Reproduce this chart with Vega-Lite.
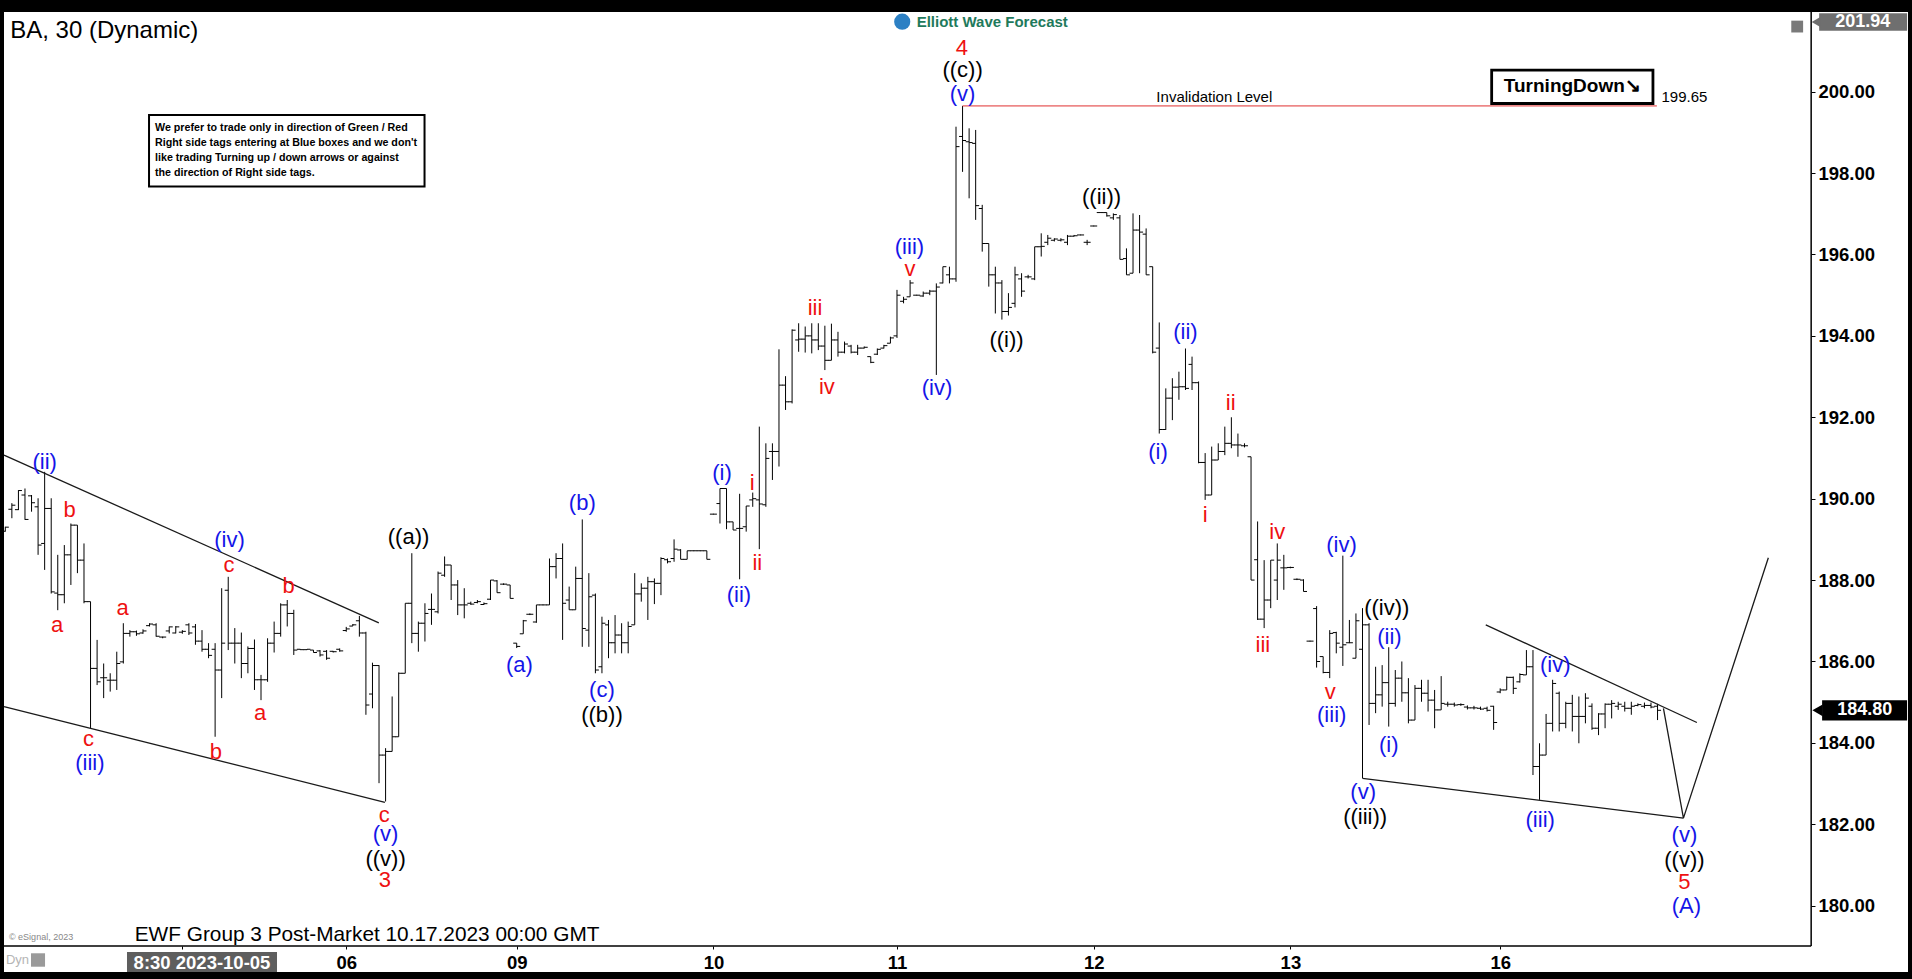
{
"$schema": "https://vega.github.io/schema/vega-lite/v6.json",
"width": 1904,
"height": 960,
"autosize": {"type": "none"},
"padding": {"left": 4, "right": 4, "top": 12, "bottom": 7},
"background": "#000000",
"config": {"view": {"fill": "#ffffff", "stroke": null}, "font": "Liberation Sans"},
"datasets": {
"bars": [
{"i":0,"o":189.2,"h":189.31,"l":189.19,"c":189.3},
{"i":1,"o":189.74,"h":189.89,"l":189.52,"c":189.84},
{"i":2,"o":189.73,"h":190.21,"l":189.72,"c":190.2},
{"i":3,"o":190.09,"h":190.25,"l":189.48,"c":189.49},
{"i":4,"o":190.07,"h":190.09,"l":189.68,"c":189.9},
{"i":5,"o":189.8,"h":190.01,"l":188.62,"c":188.86},
{"i":6,"o":188.9,"h":190.66,"l":188.25,"c":189.76},
{"i":7,"o":189.76,"h":190.01,"l":187.67,"c":187.71},
{"i":8,"o":187.68,"h":188.62,"l":187.26,"c":187.64},
{"i":9,"o":187.64,"h":188.86,"l":187.43,"c":188.62},
{"i":10,"o":188.62,"h":189.39,"l":187.88,"c":189.35},
{"i":11,"o":189.35,"h":189.35,"l":188.17,"c":188.49},
{"i":12,"o":188.49,"h":188.9,"l":187.43,"c":187.47},
{"i":13,"o":187.47,"h":187.47,"l":184.36,"c":185.83},
{"i":14,"o":185.83,"h":186.53,"l":185.42,"c":185.5},
{"i":15,"o":185.6,"h":185.95,"l":185.1,"c":185.6},
{"i":16,"o":185.54,"h":185.71,"l":185.26,"c":185.54},
{"i":17,"o":185.54,"h":186.24,"l":185.3,"c":185.95},
{"i":18,"o":185.99,"h":186.94,"l":185.95,"c":186.69},
{"i":19,"o":186.69,"h":186.77,"l":186.61,"c":186.73},
{"i":20,"o":186.73,"h":186.76,"l":186.63,"c":186.68},
{"i":21,"o":186.7,"h":186.79,"l":186.68,"c":186.75},
{"i":22,"o":186.88,"h":186.94,"l":186.86,"c":186.92},
{"i":23,"o":186.9,"h":186.94,"l":186.61,"c":186.62},
{"i":24,"o":186.6,"h":186.61,"l":186.57,"c":186.6},
{"i":25,"o":186.75,"h":186.86,"l":186.69,"c":186.85},
{"i":26,"o":186.7,"h":186.87,"l":186.69,"c":186.85},
{"i":27,"o":186.72,"h":186.77,"l":186.68,"c":186.74},
{"i":28,"o":186.9,"h":186.94,"l":186.65,"c":186.7},
{"i":29,"o":186.85,"h":186.92,"l":186.41,"c":186.5},
{"i":30,"o":186.5,"h":186.77,"l":186.24,"c":186.3},
{"i":31,"o":186.3,"h":186.45,"l":186.08,"c":186.15},
{"i":32,"o":186.3,"h":186.45,"l":184.15,"c":185.79},
{"i":33,"o":185.79,"h":187.8,"l":185.1,"c":186.45},
{"i":34,"o":187.75,"h":188.08,"l":186.28,"c":186.45},
{"i":35,"o":186.45,"h":186.82,"l":185.95,"c":186.45},
{"i":36,"o":186.45,"h":186.71,"l":185.59,"c":185.95},
{"i":37,"o":185.95,"h":186.37,"l":185.71,"c":186.32},
{"i":38,"o":186.32,"h":186.54,"l":185.3,"c":185.55},
{"i":39,"o":185.55,"h":185.67,"l":185.05,"c":185.55},
{"i":40,"o":185.55,"h":186.57,"l":185.5,"c":186.45},
{"i":41,"o":186.45,"h":186.98,"l":186.22,"c":186.69},
{"i":42,"o":186.69,"h":187.43,"l":186.61,"c":187.39},
{"i":43,"o":187.39,"h":187.51,"l":186.86,"c":187.18},
{"i":44,"o":187.18,"h":187.27,"l":186.16,"c":186.28},
{"i":45,"o":186.3,"h":186.3,"l":186.28,"c":186.29},
{"i":46,"o":186.29,"h":186.3,"l":186.28,"c":186.3},
{"i":47,"o":186.28,"h":186.28,"l":186.22,"c":186.22},
{"i":48,"o":186.26,"h":186.28,"l":186.12,"c":186.16},
{"i":49,"o":186.25,"h":186.28,"l":186.04,"c":186.08},
{"i":50,"o":186.25,"h":186.26,"l":186.22,"c":186.24},
{"i":51,"o":186.3,"h":186.32,"l":186.24,"c":186.26},
{"i":52,"o":186.76,"h":186.85,"l":186.73,"c":186.8},
{"i":53,"o":186.87,"h":186.92,"l":186.87,"c":186.9},
{"i":54,"o":187.0,"h":187.12,"l":186.61,"c":186.7},
{"i":55,"o":186.7,"h":186.73,"l":184.69,"c":184.93},
{"i":56,"o":185.2,"h":185.97,"l":184.85,"c":185.9},
{"i":57,"o":185.9,"h":185.91,"l":183.01,"c":183.7},
{"i":58,"o":183.7,"h":183.87,"l":182.56,"c":183.79},
{"i":59,"o":183.79,"h":185.14,"l":183.79,"c":184.15},
{"i":60,"o":184.15,"h":185.73,"l":184.15,"c":185.71},
{"i":61,"o":185.71,"h":187.43,"l":185.71,"c":187.43},
{"i":62,"o":187.43,"h":188.66,"l":186.45,"c":186.69},
{"i":63,"o":186.69,"h":186.98,"l":186.24,"c":186.94},
{"i":64,"o":186.94,"h":187.43,"l":186.49,"c":187.18},
{"i":65,"o":187.28,"h":187.67,"l":186.9,"c":187.28},
{"i":66,"o":187.22,"h":188.21,"l":187.18,"c":188.17},
{"i":67,"o":188.12,"h":188.58,"l":188.08,"c":188.37},
{"i":68,"o":188.37,"h":188.37,"l":187.51,"c":187.88},
{"i":69,"o":187.88,"h":188.0,"l":187.14,"c":187.39},
{"i":70,"o":187.39,"h":187.8,"l":187.06,"c":187.39},
{"i":71,"o":187.43,"h":187.47,"l":187.39,"c":187.41},
{"i":72,"o":187.45,"h":187.51,"l":187.43,"c":187.47},
{"i":73,"o":187.4,"h":187.45,"l":187.39,"c":187.42},
{"i":74,"o":187.53,"h":188.0,"l":187.51,"c":188.0},
{"i":75,"o":187.98,"h":188.0,"l":187.69,"c":187.69},
{"i":76,"o":187.9,"h":187.92,"l":187.88,"c":187.9},
{"i":77,"o":187.88,"h":187.88,"l":187.55,"c":187.55},
{"i":78,"o":186.45,"h":186.45,"l":186.33,"c":186.37},
{"i":79,"o":186.68,"h":187.02,"l":186.68,"c":187.0},
{"i":80,"o":187.16,"h":187.18,"l":187.14,"c":187.16},
{"i":81,"o":186.97,"h":187.39,"l":186.95,"c":187.39},
{"i":82,"o":187.39,"h":187.4,"l":187.38,"c":187.39},
{"i":83,"o":187.39,"h":188.53,"l":187.39,"c":188.33},
{"i":84,"o":188.33,"h":188.66,"l":188.04,"c":188.53},
{"i":85,"o":188.53,"h":188.9,"l":186.53,"c":187.43},
{"i":86,"o":187.51,"h":187.84,"l":187.27,"c":187.27},
{"i":87,"o":187.27,"h":188.33,"l":187.27,"c":188.04},
{"i":88,"o":188.04,"h":189.49,"l":186.36,"c":186.81},
{"i":89,"o":186.77,"h":188.17,"l":186.36,"c":187.59},
{"i":90,"o":187.63,"h":187.67,"l":185.71,"c":185.79},
{"i":91,"o":185.87,"h":187.1,"l":185.71,"c":186.94},
{"i":92,"o":186.9,"h":187.02,"l":186.08,"c":186.46},
{"i":93,"o":186.46,"h":187.14,"l":186.2,"c":186.65},
{"i":94,"o":186.65,"h":186.94,"l":186.2,"c":186.46},
{"i":95,"o":186.46,"h":186.98,"l":186.2,"c":186.86},
{"i":96,"o":186.9,"h":188.17,"l":186.9,"c":187.66},
{"i":97,"o":187.66,"h":187.92,"l":187.47,"c":187.8},
{"i":98,"o":187.8,"h":188.08,"l":187.02,"c":187.96},
{"i":99,"o":187.96,"h":188.04,"l":187.41,"c":187.92},
{"i":100,"o":187.92,"h":188.56,"l":187.63,"c":188.53},
{"i":101,"o":188.5,"h":188.53,"l":188.41,"c":188.45},
{"i":102,"o":188.53,"h":189.0,"l":188.45,"c":188.76},
{"i":103,"o":188.74,"h":188.76,"l":188.51,"c":188.51},
{"i":104,"o":188.51,"h":188.72,"l":188.51,"c":188.72},
{"i":105,"o":188.72,"h":188.73,"l":188.71,"c":188.72},
{"i":106,"o":188.72,"h":188.73,"l":188.71,"c":188.72},
{"i":107,"o":188.72,"h":188.72,"l":188.51,"c":188.51},
{"i":108,"o":189.62,"h":189.63,"l":189.61,"c":189.62},
{"i":109,"o":189.88,"h":190.25,"l":189.39,"c":190.25},
{"i":110,"o":190.25,"h":190.25,"l":189.25,"c":189.43},
{"i":111,"o":189.43,"h":189.43,"l":189.23,"c":189.23},
{"i":112,"o":189.27,"h":190.12,"l":188.02,"c":189.27},
{"i":113,"o":189.31,"h":189.82,"l":189.19,"c":189.82},
{"i":114,"o":189.97,"h":190.15,"l":189.8,"c":190.0},
{"i":115,"o":189.97,"h":191.77,"l":188.76,"c":189.87},
{"i":116,"o":189.85,"h":191.36,"l":189.8,"c":190.99},
{"i":117,"o":191.16,"h":191.36,"l":190.46,"c":191.16},
{"i":118,"o":191.16,"h":193.67,"l":190.79,"c":192.79},
{"i":119,"o":192.79,"h":193.01,"l":192.18,"c":192.38},
{"i":120,"o":192.38,"h":194.16,"l":192.34,"c":194.14},
{"i":121,"o":193.9,"h":194.31,"l":193.61,"c":193.92},
{"i":122,"o":193.92,"h":194.23,"l":193.59,"c":194.0},
{"i":123,"o":194.0,"h":194.31,"l":193.57,"c":193.9},
{"i":124,"o":193.9,"h":194.31,"l":193.65,"c":193.75},
{"i":125,"o":193.75,"h":194.25,"l":193.16,"c":193.4},
{"i":126,"o":193.4,"h":194.3,"l":193.4,"c":193.9},
{"i":127,"o":193.9,"h":194.1,"l":193.49,"c":193.6},
{"i":128,"o":193.6,"h":193.86,"l":193.57,"c":193.8},
{"i":129,"o":193.75,"h":193.78,"l":193.57,"c":193.6},
{"i":130,"o":193.6,"h":193.78,"l":193.53,"c":193.7},
{"i":131,"o":193.7,"h":193.74,"l":193.69,"c":193.72},
{"i":132,"o":193.49,"h":193.49,"l":193.33,"c":193.35},
{"i":133,"o":193.55,"h":193.69,"l":193.53,"c":193.67},
{"i":134,"o":193.7,"h":193.78,"l":193.69,"c":193.76},
{"i":135,"o":193.82,"h":193.98,"l":193.82,"c":193.95},
{"i":136,"o":194.0,"h":195.13,"l":193.95,"c":195.0},
{"i":137,"o":194.85,"h":194.96,"l":194.8,"c":194.9},
{"i":138,"o":194.96,"h":195.37,"l":194.96,"c":195.3},
{"i":139,"o":195.0,"h":195.01,"l":194.99,"c":195.0},
{"i":140,"o":194.98,"h":195.09,"l":194.96,"c":195.05},
{"i":141,"o":195.05,"h":195.13,"l":195.0,"c":195.1},
{"i":142,"o":195.1,"h":195.29,"l":193.04,"c":195.2},
{"i":143,"o":195.3,"h":195.7,"l":195.29,"c":195.7},
{"i":144,"o":195.5,"h":195.7,"l":195.29,"c":195.4},
{"i":145,"o":195.4,"h":199.14,"l":195.33,"c":198.65},
{"i":146,"o":198.9,"h":199.65,"l":198.03,"c":198.8},
{"i":147,"o":198.77,"h":199.1,"l":197.38,"c":198.75},
{"i":148,"o":198.73,"h":199.06,"l":196.85,"c":197.2},
{"i":149,"o":197.13,"h":197.22,"l":196.07,"c":196.27},
{"i":150,"o":196.27,"h":196.27,"l":195.21,"c":195.5},
{"i":151,"o":195.5,"h":195.7,"l":194.55,"c":195.3},
{"i":152,"o":195.3,"h":195.37,"l":194.4,"c":194.6},
{"i":153,"o":194.6,"h":195.05,"l":194.5,"c":194.7},
{"i":154,"o":194.8,"h":195.7,"l":194.7,"c":195.5},
{"i":155,"o":195.4,"h":195.54,"l":194.96,"c":195.1},
{"i":156,"o":195.45,"h":195.5,"l":195.41,"c":195.45},
{"i":157,"o":195.4,"h":196.19,"l":195.37,"c":196.19},
{"i":158,"o":196.19,"h":196.52,"l":195.95,"c":196.2},
{"i":159,"o":196.3,"h":196.48,"l":196.23,"c":196.4},
{"i":160,"o":196.35,"h":196.4,"l":196.32,"c":196.38},
{"i":161,"o":196.35,"h":196.4,"l":196.32,"c":196.36},
{"i":162,"o":196.3,"h":196.48,"l":196.23,"c":196.45},
{"i":163,"o":196.45,"h":196.48,"l":196.44,"c":196.46},
{"i":164,"o":196.48,"h":196.49,"l":196.47,"c":196.48},
{"i":165,"o":196.3,"h":196.36,"l":196.23,"c":196.3},
{"i":166,"o":196.7,"h":196.71,"l":196.69,"c":196.7},
{"i":167,"o":197.03,"h":197.04,"l":197.02,"c":197.03},
{"i":168,"o":197.03,"h":197.03,"l":196.93,"c":196.95},
{"i":169,"o":196.9,"h":197.01,"l":196.85,"c":196.98},
{"i":170,"o":196.9,"h":196.97,"l":195.88,"c":195.88},
{"i":171,"o":195.9,"h":196.15,"l":195.5,"c":195.5},
{"i":172,"o":195.54,"h":197.01,"l":195.54,"c":196.6},
{"i":173,"o":196.6,"h":196.97,"l":195.54,"c":196.55},
{"i":174,"o":196.5,"h":196.64,"l":195.5,"c":195.5},
{"i":175,"o":195.7,"h":195.7,"l":193.57,"c":193.6},
{"i":176,"o":193.7,"h":194.33,"l":191.6,"c":191.7},
{"i":177,"o":191.7,"h":192.71,"l":191.69,"c":192.47},
{"i":178,"o":192.47,"h":192.96,"l":191.93,"c":192.74},
{"i":179,"o":192.74,"h":193.12,"l":192.43,"c":192.75},
{"i":180,"o":192.75,"h":193.69,"l":192.67,"c":192.71},
{"i":181,"o":193.3,"h":193.49,"l":192.67,"c":192.85},
{"i":182,"o":192.85,"h":192.88,"l":190.87,"c":190.89},
{"i":183,"o":190.89,"h":191.12,"l":189.97,"c":190.09},
{"i":184,"o":190.09,"h":191.28,"l":190.09,"c":190.95},
{"i":185,"o":190.95,"h":191.36,"l":190.95,"c":191.16},
{"i":186,"o":191.16,"h":191.77,"l":191.07,"c":191.36},
{"i":187,"o":191.36,"h":192.0,"l":191.24,"c":191.32},
{"i":188,"o":191.32,"h":191.6,"l":191.03,"c":191.32},
{"i":189,"o":191.3,"h":191.36,"l":191.26,"c":191.3},
{"i":190,"o":191.03,"h":191.03,"l":188.0,"c":188.0},
{"i":191,"o":188.5,"h":189.44,"l":187.02,"c":187.04},
{"i":192,"o":187.04,"h":188.49,"l":186.82,"c":187.51},
{"i":193,"o":187.51,"h":188.49,"l":187.31,"c":188.49},
{"i":194,"o":188.0,"h":188.9,"l":187.51,"c":188.49},
{"i":195,"o":188.3,"h":188.62,"l":187.76,"c":188.3},
{"i":196,"o":188.31,"h":188.33,"l":188.29,"c":188.31},
{"i":197,"o":188.02,"h":188.04,"l":188.0,"c":188.02},
{"i":198,"o":188.0,"h":188.02,"l":187.72,"c":187.72},
{"i":199,"o":186.5,"h":186.51,"l":186.49,"c":186.5},
{"i":200,"o":187.3,"h":187.36,"l":185.85,"c":186.0},
{"i":201,"o":186.12,"h":186.12,"l":185.71,"c":185.73},
{"i":202,"o":185.73,"h":186.77,"l":185.59,"c":186.69},
{"i":203,"o":186.71,"h":186.73,"l":186.2,"c":186.45},
{"i":204,"o":186.35,"h":188.6,"l":185.89,"c":186.41},
{"i":205,"o":186.46,"h":187.02,"l":186.45,"c":186.46},
{"i":206,"o":186.08,"h":187.18,"l":186.08,"c":187.0},
{"i":207,"o":186.3,"h":187.31,"l":183.13,"c":186.9},
{"i":208,"o":186.9,"h":186.94,"l":184.44,"c":184.97},
{"i":209,"o":184.97,"h":185.87,"l":184.73,"c":185.18},
{"i":210,"o":185.18,"h":185.91,"l":184.89,"c":185.48},
{"i":211,"o":185.48,"h":186.35,"l":184.4,"c":184.97},
{"i":212,"o":184.97,"h":185.79,"l":184.89,"c":185.59},
{"i":213,"o":185.59,"h":186.0,"l":185.01,"c":185.23},
{"i":214,"o":185.23,"h":185.59,"l":184.48,"c":184.56},
{"i":215,"o":184.56,"h":185.42,"l":184.56,"c":185.34},
{"i":216,"o":185.34,"h":185.55,"l":185.01,"c":185.22},
{"i":217,"o":185.22,"h":185.55,"l":184.77,"c":185.05},
{"i":218,"o":185.05,"h":185.3,"l":184.36,"c":184.81},
{"i":219,"o":184.81,"h":185.64,"l":184.81,"c":184.97},
{"i":220,"o":184.95,"h":185.01,"l":184.89,"c":184.95},
{"i":221,"o":184.95,"h":184.99,"l":184.89,"c":184.93},
{"i":222,"o":184.94,"h":184.97,"l":184.91,"c":184.94},
{"i":223,"o":184.88,"h":184.92,"l":184.82,"c":184.86},
{"i":224,"o":184.86,"h":184.91,"l":184.82,"c":184.86},
{"i":225,"o":184.85,"h":184.89,"l":184.81,"c":184.83},
{"i":226,"o":184.85,"h":184.89,"l":184.77,"c":184.8},
{"i":227,"o":184.9,"h":184.91,"l":184.32,"c":184.5},
{"i":228,"o":185.25,"h":185.34,"l":185.22,"c":185.3},
{"i":229,"o":185.3,"h":185.63,"l":185.3,"c":185.61},
{"i":230,"o":185.61,"h":185.63,"l":185.2,"c":185.34},
{"i":231,"o":185.5,"h":185.71,"l":185.48,"c":185.68},
{"i":232,"o":185.67,"h":186.28,"l":185.67,"c":185.87},
{"i":233,"o":185.87,"h":186.28,"l":183.21,"c":183.42},
{"i":234,"o":183.42,"h":183.99,"l":182.6,"c":183.7},
{"i":235,"o":183.7,"h":184.71,"l":183.7,"c":184.48},
{"i":236,"o":184.48,"h":185.55,"l":184.28,"c":185.46},
{"i":237,"o":185.22,"h":185.26,"l":184.28,"c":184.48},
{"i":238,"o":184.48,"h":185.01,"l":184.36,"c":184.97},
{"i":239,"o":184.97,"h":185.18,"l":184.28,"c":184.65},
{"i":240,"o":184.65,"h":185.14,"l":183.99,"c":184.65},
{"i":241,"o":184.65,"h":185.22,"l":184.48,"c":185.1},
{"i":242,"o":184.9,"h":184.97,"l":184.32,"c":184.36},
{"i":243,"o":184.36,"h":184.73,"l":184.19,"c":184.71},
{"i":244,"o":184.71,"h":184.97,"l":184.36,"c":184.95},
{"i":245,"o":184.95,"h":185.05,"l":184.6,"c":184.97},
{"i":246,"o":184.9,"h":185.01,"l":184.81,"c":184.95},
{"i":247,"o":184.9,"h":185.01,"l":184.77,"c":184.85},
{"i":248,"o":184.85,"h":185.01,"l":184.69,"c":184.9},
{"i":249,"o":184.92,"h":184.97,"l":184.9,"c":184.94},
{"i":250,"o":184.9,"h":184.99,"l":184.85,"c":184.92},
{"i":251,"o":184.92,"h":184.99,"l":184.85,"c":184.88},
{"i":252,"o":184.9,"h":184.96,"l":184.56,"c":184.8}
],
"waves": [
{"t":"(ii)","i":6.0,"p":190.91,"deg":"minuette"},
{"t":"b","i":9.8,"p":189.72,"deg":"subminuette"},
{"t":"a","i":7.9,"p":186.9,"deg":"subminuette"},
{"t":"c","i":12.7,"p":184.09,"deg":"subminuette"},
{"t":"(iii)","i":12.9,"p":183.5,"deg":"minuette"},
{"t":"a","i":17.9,"p":187.32,"deg":"subminuette"},
{"t":"(iv)","i":34.2,"p":188.99,"deg":"minuette"},
{"t":"c","i":34.1,"p":188.37,"deg":"subminuette"},
{"t":"b","i":43.2,"p":187.86,"deg":"subminuette"},
{"t":"a","i":38.85,"p":184.74,"deg":"subminuette"},
{"t":"b","i":32.1,"p":183.78,"deg":"subminuette"},
{"t":"c","i":57.8,"p":182.23,"deg":"subminuette"},
{"t":"(v)","i":58.0,"p":181.75,"deg":"minuette"},
{"t":"((v))","i":58.0,"p":181.14,"deg":"minute"},
{"t":"3","i":57.9,"p":180.63,"deg":"minor"},
{"t":"((a))","i":61.5,"p":189.07,"deg":"minute"},
{"t":"(a)","i":78.4,"p":185.91,"deg":"minuette"},
{"t":"(b)","i":88.0,"p":189.89,"deg":"minuette"},
{"t":"(c)","i":91.0,"p":185.3,"deg":"minuette"},
{"t":"((b))","i":91.0,"p":184.69,"deg":"minute"},
{"t":"(i)","i":109.3,"p":190.62,"deg":"minuette"},
{"t":"(ii)","i":111.9,"p":187.63,"deg":"minuette"},
{"t":"i","i":113.9,"p":190.39,"deg":"subminuette"},
{"t":"ii","i":114.7,"p":188.43,"deg":"subminuette"},
{"t":"iii","i":123.5,"p":194.68,"deg":"subminuette"},
{"t":"iv","i":125.3,"p":192.75,"deg":"subminuette"},
{"t":"(iii)","i":137.9,"p":196.19,"deg":"minuette"},
{"t":"v","i":138.0,"p":195.64,"deg":"subminuette"},
{"t":"(iv)","i":142.1,"p":192.71,"deg":"minuette"},
{"t":"(v)","i":146.0,"p":199.94,"deg":"minuette"},
{"t":"((c))","i":146.0,"p":200.53,"deg":"minute"},
{"t":"4","i":145.9,"p":201.08,"deg":"minor"},
{"t":"((i))","i":152.7,"p":193.9,"deg":"minute"},
{"t":"((ii))","i":167.2,"p":197.42,"deg":"minute"},
{"t":"(i)","i":175.8,"p":191.15,"deg":"minuette"},
{"t":"(ii)","i":180.0,"p":194.1,"deg":"minuette"},
{"t":"i","i":183.0,"p":189.61,"deg":"subminuette"},
{"t":"ii","i":186.9,"p":192.34,"deg":"subminuette"},
{"t":"iii","i":191.8,"p":186.41,"deg":"subminuette"},
{"t":"iv","i":194.0,"p":189.19,"deg":"subminuette"},
{"t":"(iv)","i":203.8,"p":188.86,"deg":"minuette"},
{"t":"v","i":202.1,"p":185.26,"deg":"subminuette"},
{"t":"(iii)","i":202.3,"p":184.69,"deg":"minuette"},
{"t":"((iv))","i":210.7,"p":187.31,"deg":"minute"},
{"t":"(ii)","i":211.1,"p":186.61,"deg":"minuette"},
{"t":"(i)","i":211.0,"p":183.95,"deg":"minuette"},
{"t":"(v)","i":207.1,"p":182.8,"deg":"minuette"},
{"t":"((iii))","i":207.4,"p":182.19,"deg":"minute"},
{"t":"(iv)","i":236.4,"p":185.91,"deg":"minuette"},
{"t":"(iii)","i":234.1,"p":182.1,"deg":"minuette"},
{"t":"(v)","i":256.1,"p":181.74,"deg":"minuette"},
{"t":"((v))","i":256.1,"p":181.13,"deg":"minute"},
{"t":"5","i":256.1,"p":180.59,"deg":"minor"},
{"t":"(A)","i":256.4,"p":179.98,"deg":"intermediate"}
],
"lines": [
{"id":"wedge_top","i":-0.2,"p":191.07},{"id":"wedge_top","i":56.97,"p":186.95},
{"id":"wedge_bottom","i":-0.2,"p":184.89},{"id":"wedge_bottom","i":57.9,"p":182.54},
{"id":"diag_bottom","i":207,"p":183.13},{"id":"diag_bottom","i":255.95,"p":182.15},
{"id":"diag_top","i":225.8,"p":186.9},{"id":"diag_top","i":258.0,"p":184.5},
{"id":"path","i":252.9,"p":184.85},{"id":"path","i":255.95,"p":182.15},{"id":"path","i":268.9,"p":188.55}
],
"frame": [
{"i":-0.2,"i2":275.43,"p":179.01,"p2":179.01},
{"i":275.43,"i2":275.43,"p":179.01,"p2":201.96}
]
},
"layer": [
{
"data": {"name": "frame"},
"mark": {"type": "rule", "color": "#000000", "strokeWidth": 1.5},
"encoding": {
"x": {"field": "i", "type": "quantitative", "scale": {"domain": [-0.2, 290.2], "nice": false, "zero": false},
"axis": {"orient": "bottom", "offset": -26, "values": [27, 52, 78, 108, 136, 166, 196, 228], "labelExpr": "datum.value == 52 ? '06' : datum.value == 78 ? '09' : datum.value == 108 ? '10' : datum.value == 136 ? '11' : datum.value == 166 ? '12' : datum.value == 196 ? '13' : datum.value == 228 ? '16' : ''", "domain": false, "grid": false, "title": null, "ticks": true, "tickSize": 3, "tickColor": "#000000", "tickWidth": 1, "labels": true, "labelFontSize": 18.5, "labelFontWeight": "bold", "labelColor": "#000000", "labelPadding": 4, "labelFlush": false, "labelOverlap": false, "labelFont": "Liberation Sans"}},
"x2": {"field": "i2"},
"y": {"field": "p", "type": "quantitative", "scale": {"domain": [178.37, 201.958], "nice": false, "zero": false},
"axis": {"orient": "right", "offset": -97, "values": [180, 182, 184, 186, 188, 190, 192, 194, 196, 198, 200], "format": ".2f", "domain": false, "grid": false, "title": null, "ticks": true, "tickSize": 4, "tickColor": "#000000", "tickWidth": 1, "labels": true, "labelFontSize": 18.5, "labelFontWeight": "bold", "labelColor": "#000000", "labelPadding": 3, "labelFont": "Liberation Sans", "labelOverlap": false}},
"y2": {"field": "p2"}
}
},
{
"data": {"name": "bars"},
"mark": {"type": "rule", "color": "#000000", "strokeWidth": 1},
"encoding": {
"x": {"field": "i", "type": "quantitative"},
"y": {"field": "l", "type": "quantitative"},
"y2": {"field": "h"}
}
},
{
"data": {"name": "bars"},
"mark": {"type": "tick", "orient": "horizontal", "color": "#000000", "opacity": 1, "size": 3.5, "thickness": 1, "xOffset": -1.75},
"encoding": {
"x": {"field": "i", "type": "quantitative"},
"y": {"field": "o", "type": "quantitative"}
}
},
{
"data": {"name": "bars"},
"mark": {"type": "tick", "orient": "horizontal", "color": "#000000", "opacity": 1, "size": 3.5, "thickness": 1, "xOffset": 1.75},
"encoding": {
"x": {"field": "i", "type": "quantitative"},
"y": {"field": "c", "type": "quantitative"}
}
},
{
"data": {"name": "lines"},
"mark": {"type": "line", "color": "#1a1a1a", "strokeWidth": 1.3},
"encoding": {
"x": {"field": "i", "type": "quantitative"},
"y": {"field": "p", "type": "quantitative"},
"detail": {"field": "id"}
}
},
{
"data": {"values": [{"i": 146, "i2": 251.9, "p": 199.65}]},
"mark": {"type": "rule", "color": "#e03030", "strokeWidth": 1},
"encoding": {
"x": {"field": "i", "type": "quantitative"},
"x2": {"field": "i2"},
"y": {"field": "p", "type": "quantitative"}
}
},
{
"data": {"values": [{"i": 21.92, "i2": 63.94, "p": 199.43, "p2": 197.67}]},
"mark": {"type": "rect", "fill": "#ffffff", "stroke": "#000000", "strokeWidth": 2},
"encoding": {
"x": {"field": "i", "type": "quantitative"}, "x2": {"field": "i2"},
"y": {"field": "p", "type": "quantitative"}, "y2": {"field": "p2"}
}
},
{
"data": {"values": [{"i": 226.7, "i2": 251.3, "p": 200.53, "p2": 199.71}]},
"mark": {"type": "rect", "fill": "#ffffff", "stroke": "#000000", "strokeWidth": 2.8},
"encoding": {
"x": {"field": "i", "type": "quantitative"}, "x2": {"field": "i2"},
"y": {"field": "p", "type": "quantitative"}, "y2": {"field": "p2"}
}
},
{
"data": {"values": [
{"t": "We prefer to trade only in direction of Green / Red", "i": 22.83, "p": 199.12},
{"t": "Right side tags entering at Blue boxes and we don't", "i": 22.83, "p": 198.75},
{"t": "like trading Turning up / down arrows or against", "i": 22.83, "p": 198.38},
{"t": "the direction of Right side tags.", "i": 22.83, "p": 198.01}
]},
"mark": {"type": "text", "align": "left", "baseline": "middle", "font": "Liberation Sans", "fontSize": 10.7, "fontWeight": "bold", "color": "#000000"},
"encoding": {
"x": {"field": "i", "type": "quantitative"},
"y": {"field": "p", "type": "quantitative"},
"text": {"field": "t"}
}
},
{
"data": {"name": "waves"},
"mark": {"type": "text", "align": "center", "baseline": "middle", "font": "Liberation Sans", "fontSize": 22},
"encoding": {
"x": {"field": "i", "type": "quantitative"},
"y": {"field": "p", "type": "quantitative"},
"text": {"field": "t"},
"color": {"field": "deg", "type": "nominal", "legend": null, "scale": {"domain": ["subminuette", "minor", "minuette", "minute", "intermediate"], "range": ["#ee1111", "#ee1111", "#1515e8", "#000000", "#1515e8"]}}
}
},
{
"data": {"values": [{"t": "BA, 30 (Dynamic)", "i": 0.75, "p": 201.32}]},
"mark": {"type": "text", "align": "left", "baseline": "alphabetic", "font": "Liberation Sans", "fontSize": 24, "color": "#000000"},
"encoding": {
"x": {"field": "i", "type": "quantitative"},
"y": {"field": "p", "type": "quantitative"},
"text": {"field": "t"}
}
},
{
"data": {"values": [{"t": "EWF Group 3 Post-Market 10.17.2023 00:00 GMT", "i": 19.74, "p": 179.14}]},
"mark": {"type": "text", "align": "left", "baseline": "alphabetic", "font": "Liberation Sans", "fontSize": 20.8, "color": "#000000"},
"encoding": {
"x": {"field": "i", "type": "quantitative"},
"y": {"field": "p", "type": "quantitative"},
"text": {"field": "t"}
}
},
{
"data": {"values": [{"t": "Invalidation Level", "i": 184.4, "p": 199.75}]},
"mark": {"type": "text", "align": "center", "baseline": "alphabetic", "font": "Liberation Sans", "fontSize": 15, "color": "#000000"},
"encoding": {
"x": {"field": "i", "type": "quantitative"},
"y": {"field": "p", "type": "quantitative"},
"text": {"field": "t"}
}
},
{
"data": {"values": [{"t": "199.65", "i": 252.6, "p": 199.75}]},
"mark": {"type": "text", "align": "left", "baseline": "alphabetic", "font": "Liberation Sans", "fontSize": 15, "color": "#000000"},
"encoding": {
"x": {"field": "i", "type": "quantitative"},
"y": {"field": "p", "type": "quantitative"},
"text": {"field": "t"}
}
},
{
"data": {"values": [{"t": "TurningDown↘", "i": 239.0, "p": 200.13}]},
"mark": {"type": "text", "align": "center", "baseline": "middle", "font": "Liberation Sans", "fontSize": 19, "fontWeight": "bold", "color": "#000000"},
"encoding": {
"x": {"field": "i", "type": "quantitative"},
"y": {"field": "p", "type": "quantitative"},
"text": {"field": "t"}
}
},
{
"data": {"values": [{"t": "Elliott Wave Forecast", "i": 139.0, "p": 201.72}]},
"mark": {"type": "text", "align": "left", "baseline": "middle", "font": "Liberation Sans", "fontSize": 15, "fontWeight": "bold", "color": "#1f7a5c"},
"encoding": {
"x": {"field": "i", "type": "quantitative"},
"y": {"field": "p", "type": "quantitative"},
"text": {"field": "t"}
}
},
{
"data": {"values": [{"i": 136.8, "p": 201.72}]},
"mark": {"type": "point", "shape": "circle", "filled": true, "size": 260, "color": "#2c80c4", "opacity": 1},
"encoding": {
"x": {"field": "i", "type": "quantitative"},
"y": {"field": "p", "type": "quantitative"}
}
},
{
"data": {"values": [{"i": 273.3, "p": 201.6}]},
"mark": {"type": "point", "shape": "square", "filled": true, "size": 140, "color": "#7a7a7a", "opacity": 1},
"encoding": {
"x": {"field": "i", "type": "quantitative"},
"y": {"field": "p", "type": "quantitative"}
}
},
{
"data": {"values": [{"i": 276.65, "i2": 290.06, "p": 201.93, "p2": 201.5}]},
"mark": {"type": "rect", "fill": "#6f6f6f"},
"encoding": {
"x": {"field": "i", "type": "quantitative"}, "x2": {"field": "i2"},
"y": {"field": "p", "type": "quantitative"}, "y2": {"field": "p2"}
}
},
{
"data": {"values": [{"i": 276.2, "p": 201.715}]},
"mark": {"type": "point", "shape": "triangle-left", "filled": true, "size": 110, "color": "#6f6f6f", "opacity": 1},
"encoding": {
"x": {"field": "i", "type": "quantitative"},
"y": {"field": "p", "type": "quantitative"}
}
},
{
"data": {"values": [{"i": 277.1, "i2": 290.06, "p": 185.05, "p2": 184.55}]},
"mark": {"type": "rect", "fill": "#000000"},
"encoding": {
"x": {"field": "i", "type": "quantitative"}, "x2": {"field": "i2"},
"y": {"field": "p", "type": "quantitative"}, "y2": {"field": "p2"}
}
},
{
"data": {"values": [{"i": 276.4, "p": 184.8}]},
"mark": {"type": "point", "shape": "triangle-left", "filled": true, "size": 140, "color": "#000000", "opacity": 1},
"encoding": {
"x": {"field": "i", "type": "quantitative"},
"y": {"field": "p", "type": "quantitative"}
}
},
{
"data": {"values": [{"t": "201.94", "i": 283.3, "p": 201.715}, {"t": "184.80", "i": 283.6, "p": 184.8}]},
"mark": {"type": "text", "align": "center", "baseline": "middle", "font": "Liberation Sans", "fontSize": 18, "fontWeight": "bold", "color": "#ffffff"},
"encoding": {
"x": {"field": "i", "type": "quantitative"},
"y": {"field": "p", "type": "quantitative"},
"text": {"field": "t"}
}
},
{
"data": {"values": [{"i": 18.56, "i2": 41.44, "p": 178.86, "p2": 178.37}]},
"mark": {"type": "rect", "fill": "#5e5e5e"},
"encoding": {
"x": {"field": "i", "type": "quantitative"}, "x2": {"field": "i2"},
"y": {"field": "p", "type": "quantitative"}, "y2": {"field": "p2"}
}
},
{
"data": {"values": [{"t": "8:30 2023-10-05", "i": 30.0, "p": 178.6}]},
"mark": {"type": "text", "align": "center", "baseline": "middle", "font": "Liberation Sans", "fontSize": 18.5, "fontWeight": "bold", "color": "#ffffff"},
"encoding": {
"x": {"field": "i", "type": "quantitative"},
"y": {"field": "p", "type": "quantitative"},
"text": {"field": "t"}
}
},
{
"data": {"values": [{"t": "© eSignal, 2023", "i": 0.56, "p": 179.15}]},
"mark": {"type": "text", "align": "left", "baseline": "alphabetic", "font": "Liberation Sans", "fontSize": 9, "color": "#888888"},
"encoding": {
"x": {"field": "i", "type": "quantitative"},
"y": {"field": "p", "type": "quantitative"},
"text": {"field": "t"}
}
},
{
"data": {"values": [{"t": "Dyn", "i": 0.1, "p": 178.67}]},
"mark": {"type": "text", "align": "left", "baseline": "middle", "font": "Liberation Sans", "fontSize": 13, "color": "#b5b5b5"},
"encoding": {
"x": {"field": "i", "type": "quantitative"},
"y": {"field": "p", "type": "quantitative"},
"text": {"field": "t"}
}
},
{
"data": {"values": [{"i": 3.92, "i2": 6.06, "p": 178.83, "p2": 178.5}]},
"mark": {"type": "rect", "fill": "#9a9a9a"},
"encoding": {
"x": {"field": "i", "type": "quantitative"}, "x2": {"field": "i2"},
"y": {"field": "p", "type": "quantitative"}, "y2": {"field": "p2"}
}
}
]
}
